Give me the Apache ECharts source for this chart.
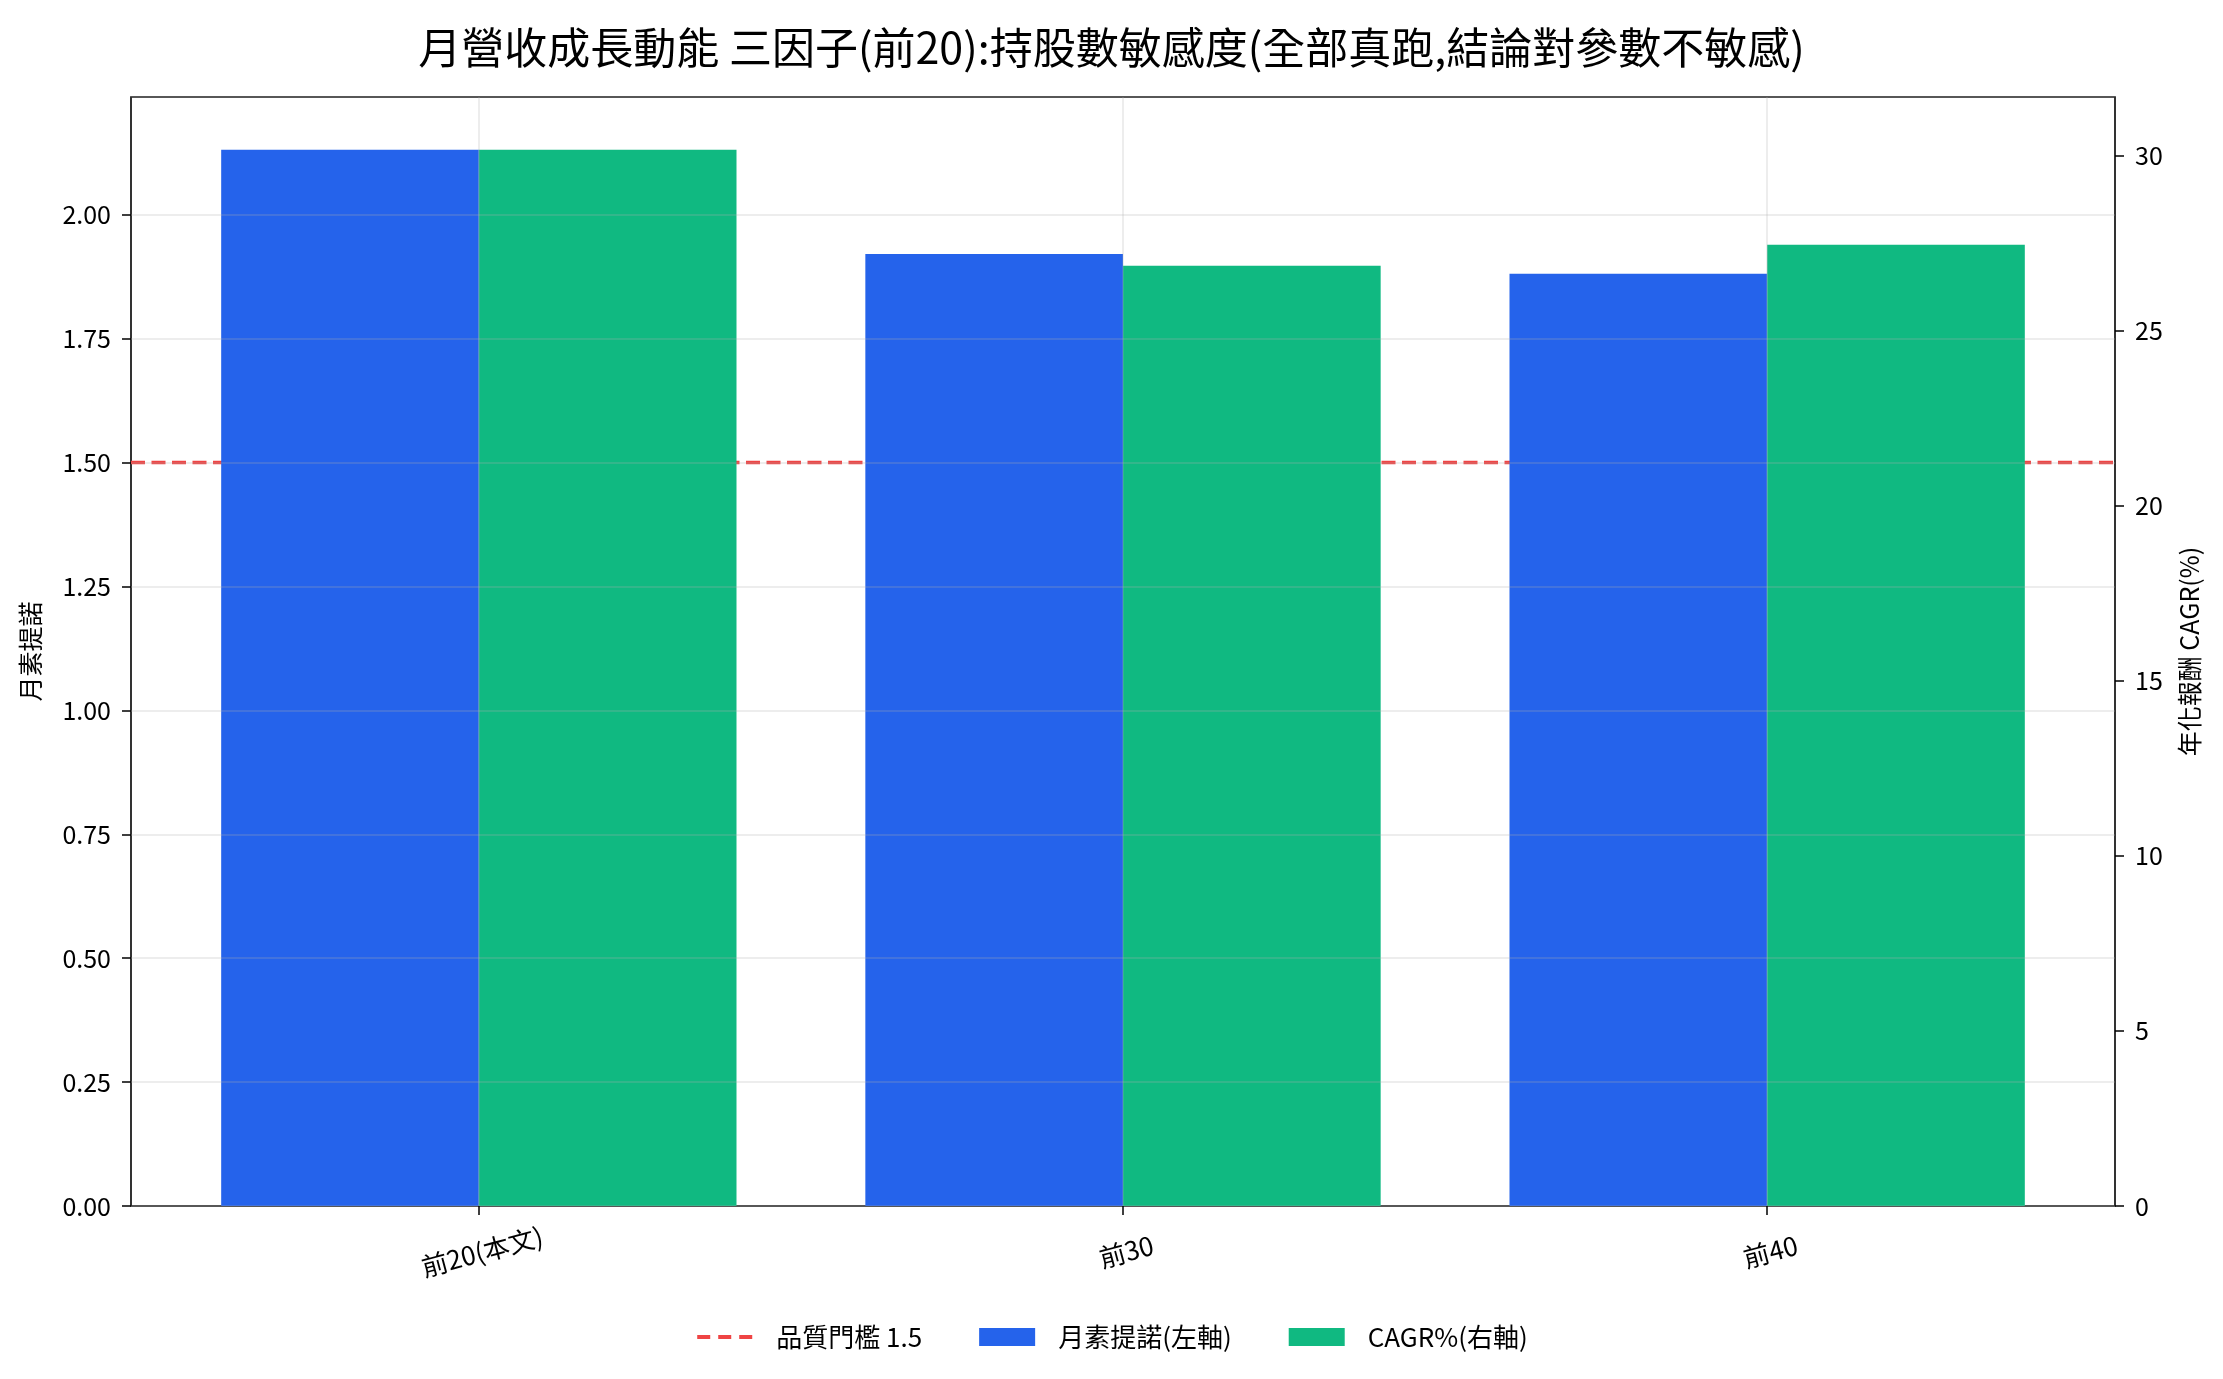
<!DOCTYPE html>
<html>
<head>
<meta charset="utf-8">
<script src="https://cdn.jsdelivr.net/npm/echarts@6/dist/echarts.min.js"></script>
<style>
  html, body { margin: 0; padding: 0; background: #fff; }
  #chart { width: 2223px; height: 1379px; }
</style>
</head>
<body>
<div id="chart"></div>
<script>
// values
const categories = ['前20(本文)', '前30', '前40'];
const sortinoValues = [2.131, 1.921, 1.881];
const cagrValues = [30.17, 26.86, 27.46];
const threshold = 1.5;

const FONT = '"Noto Sans CJK TC", "Noto Sans", sans-serif';
const BLUE = '#2563eb';
const GREEN = '#10b981';
const RED = '#ef4444';
const GRID_LINE = 'rgba(176,176,176,0.3)';

// matplotlib-like limits: bars span -0.4..2.4, plus 5% margin
const xMin = -0.54;
const xMax = 2.54;
const leftMax = Math.max(...sortinoValues) * 1.05;
const rightMax = Math.max(...cagrValues) * 1.05;

const gridLeft = 131;
const gridRight = 2223 - 2115;
const plotWidth = 2223 - gridLeft - gridRight;
const barPx = plotWidth / (xMax - xMin) * 0.4;

const chart = echarts.init(document.getElementById('chart'));

const tickStyle = { color: '#000', width: 1.5 };

const option = {
  backgroundColor: '#fff',
  animation: false,
  title: {
    text: '月營收成長動能 三因子(前20):持股數敏感度(全部真跑,結論對參數不敏感)',
    left: 'center',
    top: 21,
    textStyle: { fontFamily: FONT, fontSize: 43, fontWeight: 'normal', color: '#000' },
  },
  legend: {
    bottom: 24,
    left: 'center',
    itemWidth: 56,
    itemHeight: 18,
    itemGap: 57,
    textStyle: { fontFamily: FONT, fontSize: 26, color: '#000', padding: [0, 0, 0, 18] },
    data: [
      {
        name: '品質門檻 1.5',
        itemStyle: { opacity: 0 },
        lineStyle: { color: RED, width: 4, type: [13, 8] },
      },
      { name: '月素提諾(左軸)', icon: 'rect' },
      { name: 'CAGR%(右軸)', icon: 'rect' },
    ],
  },
  grid: {
    left: gridLeft,
    right: gridRight,
    top: 97,
    bottom: 1379 - 1206,
    show: true,
    borderColor: '#000',
    borderWidth: 1.6,
    containLabel: false,
  },
  xAxis: {
    type: 'value',
    min: xMin,
    max: xMax,
    z: 3,
    axisLine: { show: false, onZero: false },
    axisTick: { show: true, customValues: [0, 1, 2], length: 9, lineStyle: tickStyle },
    axisLabel: {
      customValues: [0, 1, 2],
      formatter: v => categories[Math.round(v)],
      rotate: 15,
      align: 'center',
      verticalAlign: 'top',
      margin: 33,
      fontFamily: FONT,
      fontSize: 26,
      color: '#000',
    },
    splitLine: { show: true, lineStyle: { color: GRID_LINE, width: 1.5 } },
  },
  yAxis: [
    {
      type: 'value',
      min: 0,
      max: leftMax,
      interval: 0.25,
      position: 'left',
      z: 3,
      name: '月素提諾',
      nameLocation: 'middle',
      nameRotate: 90,
      nameGap: 88,
      nameTextStyle: { fontFamily: FONT, fontSize: 25, color: '#000' },
      axisLine: { show: false, onZero: false },
      axisTick: { show: true, length: 9, lineStyle: tickStyle },
      axisLabel: {
        formatter: v => v.toFixed(2),
        margin: 20,
        fontFamily: FONT,
        fontSize: 25,
        color: '#000',
        showMaxLabel: false,
      },
      splitLine: { show: true, lineStyle: { color: GRID_LINE, width: 1.5 } },
    },
    {
      type: 'value',
      min: 0,
      max: rightMax,
      interval: 5,
      position: 'right',
      z: 3,
      name: '年化報酬 CAGR(%)',
      nameLocation: 'middle',
      nameRotate: 90,
      nameGap: 62,
      nameTextStyle: { fontFamily: FONT, fontSize: 25, color: '#000' },
      axisLine: { show: false, onZero: false },
      axisTick: { show: true, length: 9, lineStyle: tickStyle },
      axisLabel: {
        margin: 20,
        fontFamily: FONT,
        fontSize: 25,
        color: '#000',
        showMaxLabel: false,
      },
      splitLine: { show: false },
    },
  ],
  series: [
    {
      name: '品質門檻 1.5',
      type: 'line',
      yAxisIndex: 0,
      z: 1,
      symbol: 'none',
      silent: true,
      lineStyle: { color: RED, width: 3.4, type: [14, 6.5] },
      itemStyle: { color: RED },
      data: [[xMin, threshold], [xMax, threshold]],
    },
    {
      name: '月素提諾(左軸)',
      type: 'bar',
      yAxisIndex: 0,
      z: 2,
      barWidth: barPx,
      barGap: '0%',
      itemStyle: { color: BLUE },
      data: sortinoValues.map((v, i) => [i, v]),
    },
    {
      name: 'CAGR%(右軸)',
      type: 'bar',
      yAxisIndex: 1,
      z: 2,
      barWidth: barPx,
      barGap: '0%',
      itemStyle: { color: GREEN },
      data: cagrValues.map((v, i) => [i, v]),
    },
  ],
};

chart.setOption(option);
</script>
</body>
</html>
